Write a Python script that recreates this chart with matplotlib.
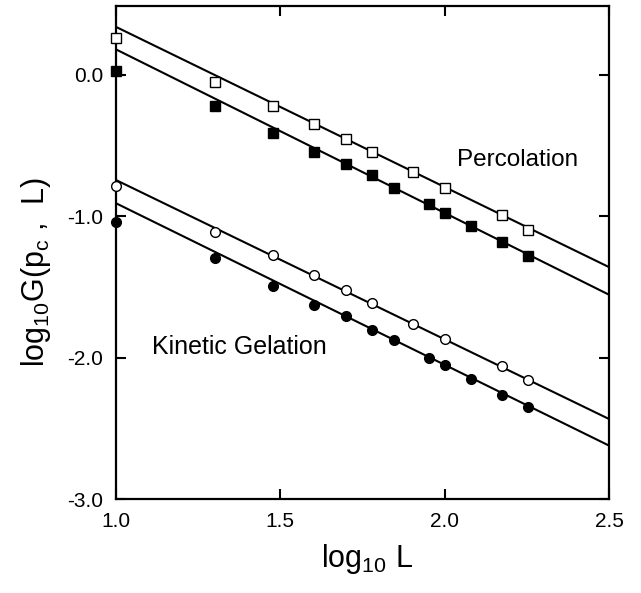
import numpy as np
from matplotlib import pyplot as plt

plt.rcParams['font.family'] = ['Liberation Sans', 'DejaVu Sans']
plt.rcParams['mathtext.default'] = 'regular'

# Percolation, open squares (log10 L, log10 G)
perc_open_x = [1.0, 1.301, 1.477, 1.602, 1.699, 1.778, 1.903, 2.0, 2.176, 2.255]
perc_open_y = [0.263, -0.048, -0.217, -0.349, -0.450, -0.542, -0.687, -0.796, -0.989, -1.095]

# Percolation, filled squares
perc_fill_x = [1.0, 1.301, 1.477, 1.602, 1.699, 1.778, 1.845, 1.954, 2.0, 2.079, 2.176, 2.255]
perc_fill_y = [0.028, -0.219, -0.412, -0.546, -0.629, -0.709, -0.796, -0.913, -0.977, -1.066, -1.184, -1.283]

# Kinetic gelation, open circles
kin_open_x = [1.0, 1.301, 1.477, 1.602, 1.699, 1.778, 1.903, 2.0, 2.176, 2.255]
kin_open_y = [-0.782, -1.111, -1.276, -1.417, -1.523, -1.612, -1.760, -1.864, -2.059, -2.158]

# Kinetic gelation, filled circles
kin_fill_x = [1.0, 1.301, 1.477, 1.602, 1.699, 1.778, 1.845, 1.954, 2.0, 2.079, 2.176, 2.255]
kin_fill_y = [-1.040, -1.294, -1.495, -1.629, -1.703, -1.800, -1.876, -2.0, -2.052, -2.146, -2.259, -2.349]

# fitted lines: (value at log10 L = 1.0, slope)
fits = [(0.340, -1.132), (0.181, -1.156), (-0.742, -1.126), (-0.906, -1.142)]

fig = plt.figure(figsize=(6.41, 5.93), dpi=100)
ax = fig.add_axes([0.1805, 0.1577, 0.7695, 0.8330])

xfit = np.array([1.0, 2.5])
for y0, slope in fits:
    ax.plot(xfit, y0 + slope * (xfit - 1.0), color='black', lw=1.5, zorder=2)

ax.plot(perc_open_x, perc_open_y, 's', ms=6.5, mfc='white', mec='black', mew=1.0, clip_on=False, zorder=4)
ax.plot(perc_fill_x, perc_fill_y, 's', ms=6.5, mfc='black', mec='black', mew=1.0, clip_on=False, zorder=4)
ax.plot(kin_open_x, kin_open_y, 'o', ms=7, mfc='white', mec='black', mew=1.0, clip_on=False, zorder=4)
ax.plot(kin_fill_x, kin_fill_y, 'o', ms=7, mfc='black', mec='black', mew=1.0, clip_on=False, zorder=4)

ax.text(2.037, -0.60, 'Percolation', fontsize=17.5, va='center', ha='left')
ax.text(1.111, -1.92, 'Kinetic Gelation', fontsize=18, va='center', ha='left')

ax.set_xlim(1.0, 2.5)
ax.set_ylim(-3.0, 0.49)
ax.set_xticks([1.0, 1.5, 2.0, 2.5])
ax.set_yticks([-3.0, -2.0, -1.0, 0.0])
ax.set_xticklabels(['1.0', '1.5', '2.0', '2.5'])
ax.set_yticklabels(['-3.0', '-2.0', '-1.0', '0.0'])
ax.tick_params(direction='in', length=7, width=1.5, labelsize=15, pad=9,
               top=True, right=True)
for s in ax.spines.values():
    s.set_linewidth(1.6)

ax.set_xlabel(r'log$_{10}$ L', fontsize=22, labelpad=8)
ax.set_ylabel(r'log$_{10}$G(p$_c$ ,  L)', fontsize=22, labelpad=10)
ax.xaxis.label.set_x(0.51)
ax.yaxis.label.set_y(0.46)

fig.savefig('out.png', dpi=100)
